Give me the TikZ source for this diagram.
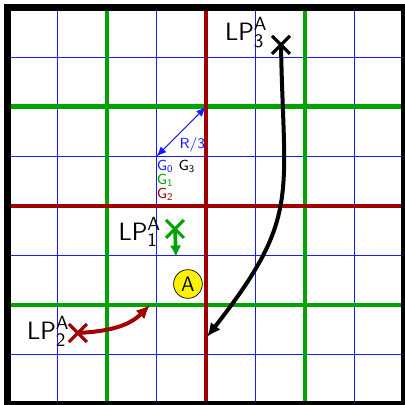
\documentclass[tikz,border=0pt]{standalone}
\usetikzlibrary{arrows.meta,positioning,shapes.misc}
\usepackage{xcolor}
\definecolor{fineBlue}{HTML}{1A1AFF}
\definecolor{coarseGreen}{HTML}{00A300}
\definecolor{rootRed}{HTML}{A00000}
\tikzset{
    fine/.style={draw=fineBlue, line width=0.6pt},
    coarse/.style={draw=coarseGreen, line width=2.8pt},
    root/.style={draw=rootRed, line width=2.4pt},
    frame/.style={draw=black, line width=4pt},
    lpmark/.style={
        cross out,
        draw,
        line width=1.8pt,
        minimum size=0.3cm,
        inner sep=0pt
    },
    lplabel/.style={
        font=\fontsize{15}{18}\selectfont\sffamily,
        inner sep=0pt,
        anchor=base east
    },
    small/.style={font=\fontsize{8.4}{8.2}\selectfont\sffamily},
    agent/.style={
        circle,
        draw=black,
        thin,
        fill=yellow,
        minimum size=0.58cm,
        inner sep=0pt,
        font=\fontsize{12}{14}\selectfont\sffamily
    },
    move/.style={-{Latex[length=2.8mm,width=2.5mm]},line width=2.3pt}
}

\begin{document}
\begin{tikzpicture}
    \useasboundingbox (-0.16,-0.02) rectangle (8,8.16);

    % grids, finest first
    \foreach \i in {1,...,7} {
        \draw[fine] (\i,0) -- (\i,8);
        \draw[fine] (0,\i) -- (8,\i);
    }
    \foreach \i in {2,6} {
        \draw[coarse] (\i,0) -- (\i,8);
        \draw[coarse] (0,\i) -- (8,\i);
    }
    \draw[root] (4,0) -- (4,8);
    \draw[root] (0,4) -- (8,4);
    \draw[frame] (0,0) rectangle (8,8);

    % cell size
    \coordinate (r0) at (3,5);
    \coordinate (r1) at (4,6);
    \draw[{Latex[length=2mm,width=1.6mm]}-{Latex[length=2mm,width=1.6mm]},
        fineBlue, line width=0.6pt] (r0) --
        node[pos=0.42, anchor=north west, inner sep=1pt, small, text=fineBlue]
        {R/3} (r1);
    \node[small, align=left, anchor=north west, inner sep=0pt] (levels)
        at (3.0,4.94)
        {\textcolor{fineBlue}{G\textsubscript{0}} G\textsubscript{3}\\
         \textcolor{coarseGreen}{G\textsubscript{1}}\\
         \textcolor{rootRed}{G\textsubscript{2}}};

    \node[agent] (agentA) at (3.636,2.424) {A};

    % leaders
    \node[lpmark, draw=coarseGreen] (lp1) at (3.374,3.535) {};
    \node[lpmark, draw=rootRed] (lp2) at (1.414,1.434) {};
    \node[lpmark, draw=black] (lp3) at (5.515,7.253) {};
    \node[lplabel] (lab1) at (3.1,3.31)
        {$\mathsf{LP}^{\mathsf{A}}_{\mathsf{1}}$};
    \node[lplabel] (lab2) at (1.25,1.293)
        {$\mathsf{LP}^{\mathsf{A}}_{\mathsf{2}}$};
    \node[lplabel] (lab3) at (5.25,7.333)
        {$\mathsf{LP}^{\mathsf{A}}_{\mathsf{3}}$};

    \coordinate (t1) at (3.394,2.97);
    \coordinate (t2) at (2.869,2.0);
    \coordinate (t3) at (4.02,1.354);

    \draw[move, coarseGreen, line width=2.1pt,
        -{Latex[length=2.3mm,width=2.3mm]}] (lp1.center) -- (t1);
    \draw[move, rootRed] (lp2.center) to[out=3, in=-135] (t2);
    \draw[move, black] (lp3.center) to[out=-89, in=52, looseness=1.3] (t3);
\end{tikzpicture}
\end{document}
